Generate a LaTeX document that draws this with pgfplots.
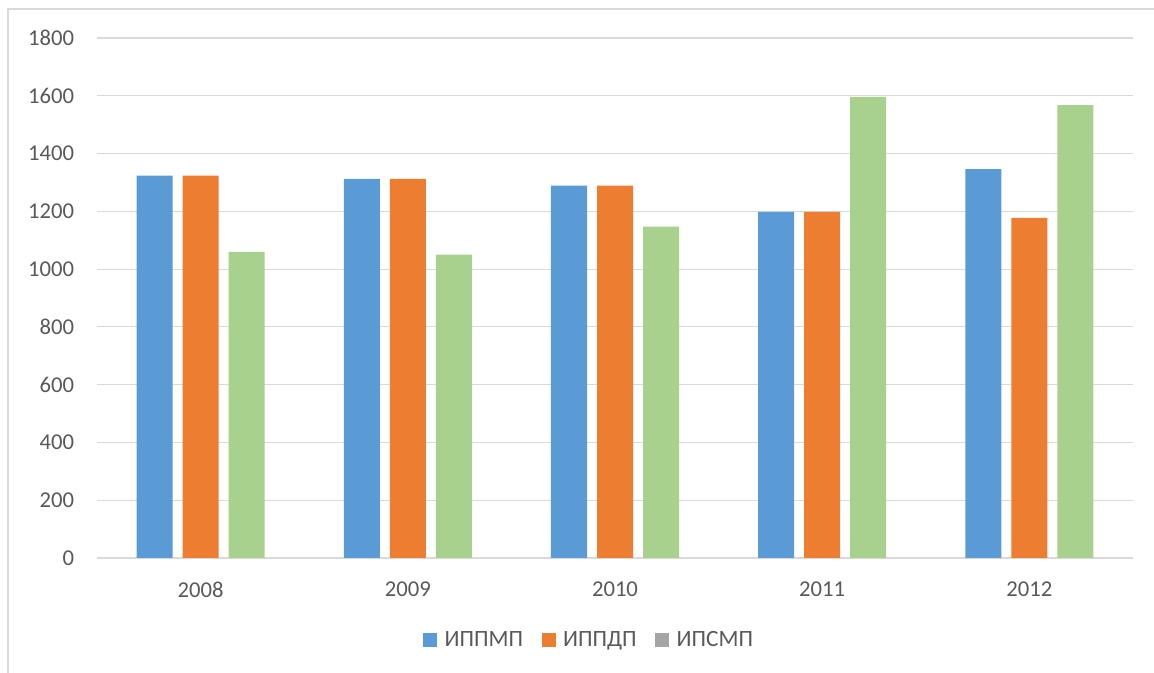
\documentclass[border=0pt]{standalone}
\usepackage{fontspec}
\setmainfont{Carlito}
\usepackage{pgfplots}
\pgfplotsset{compat=1.18}
\definecolor{cblue}{HTML}{5B9BD5}
\definecolor{corange}{HTML}{ED7D31}
\definecolor{cgreen}{HTML}{A9D18E}
\definecolor{cgray}{HTML}{A5A5A5}
\definecolor{gridgray}{HTML}{D9D9D9}
\definecolor{txtgray}{HTML}{595959}
\begin{document}
\begin{tikzpicture}
\useasboundingbox (0,0) rectangle (865.5pt,504.75pt);
\draw[gridgray, line width=1.1pt] (6pt,0pt) -- (6pt,498pt) -- (865.5pt,498pt);
\begin{axis}[
  at={(72.75pt,86.25pt)}, anchor=south west,
  scale only axis, width=777pt, height=390pt,
  xmin=-0.5, xmax=4.5, ymin=0, ymax=1800,
  xtick={0,1,2,3,4}, xticklabels={2008,2009,2010,2011,2012},
  ytick={0,200,...,1800},
  axis line style={draw=none},
  major tick length=0pt,
  ymajorgrids, grid style={gridgray, line width=0.9pt},
  /pgf/number format/assume math mode=true,
  /pgf/number format/1000 sep={},
  tick label style={font=\fontsize{17}{20}\selectfont, text=txtgray},
  yticklabel style={anchor=east, inner sep=0pt, xshift=-17pt},
  xticklabel style={anchor=north, inner sep=0pt, yshift=-18pt},
  ybar, bar width=27pt,
  legend style={at={(0.4754,-0.1577)}, anchor=center, draw=none,
    font=\fontsize{17.5}{20}\selectfont, text=txtgray,
    legend columns=3,
    /tikz/every even column/.append style={column sep=12pt}},
  legend image code/.code={\path[draw=none,fill=none] (0pt,0pt) -- (14pt,0pt);\fill[#1,draw=none] (0pt,-5.25pt) rectangle (10.5pt,5.25pt);},
]
\addplot[fill=cblue, draw=none, bar shift=-34.5pt, forget plot] coordinates {(0,1324) (1,1312) (2,1289) (3,1198) (4,1346)};
\addplot[fill=corange, draw=none, bar shift=0pt, forget plot] coordinates {(0,1324) (1,1312) (2,1289) (3,1198) (4,1177)};
\addplot[fill=cgreen, draw=none, bar shift=34.5pt, forget plot] coordinates {(0,1060) (1,1050) (2,1147) (3,1596) (4,1568)};
\addlegendimage{fill=cblue, draw=none}
\addlegendentry{ИППМП}
\addlegendimage{fill=corange, draw=none}
\addlegendentry{ИППДП}
\addlegendimage{fill=cgray, draw=none}
\addlegendentry{ИПСМП}
\end{axis}
\end{tikzpicture}
\end{document}
